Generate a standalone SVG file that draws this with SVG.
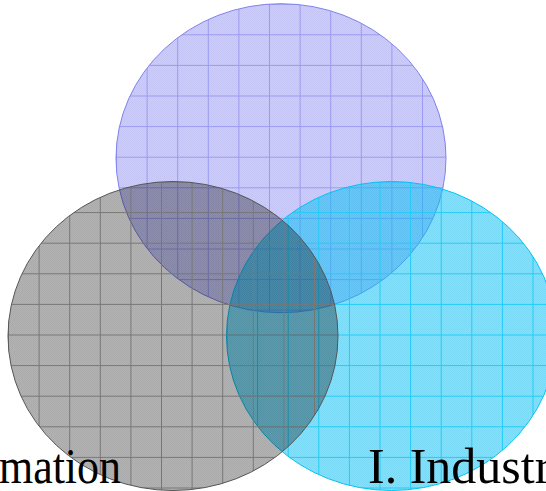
<svg xmlns="http://www.w3.org/2000/svg" width="546" height="491" viewBox="0 0 546 491">
<defs>
<pattern id="fine" width="2" height="2" patternUnits="userSpaceOnUse">
<rect x="0" y="0" width="1" height="1" fill="#000" fill-opacity="0.04"/>
<rect x="1" y="1" width="1" height="1" fill="#000" fill-opacity="0.04"/>
</pattern>
<pattern id="gridB" x="116" y="3.7" width="30.6" height="30.6" patternUnits="userSpaceOnUse">
<path d="M0 0.5H30.6M0.5 0V30.6" stroke="#9a9af2" stroke-width="1" fill="none"/>
</pattern>
<pattern id="gridG" x="8" y="181.5" width="30.6" height="30.6" patternUnits="userSpaceOnUse">
<path d="M0 0.5H30.6M0.5 0V30.6" stroke="#777777" stroke-width="1" fill="none"/>
</pattern>
<pattern id="gridC" x="226.5" y="181.5" width="30.6" height="30.6" patternUnits="userSpaceOnUse">
<path d="M0 0.5H30.6M0.5 0V30.6" stroke="#20ccf8" stroke-width="1" fill="none"/>
</pattern>
</defs>
<style>
.lbl{font-family:"Liberation Serif","Times New Roman",serif;font-size:50px;fill:#000}
</style>
<g id="blue">
<ellipse cx="281" cy="158.2" rx="165" ry="154.5" fill="#0000ff" fill-opacity="0.2"/>
<ellipse cx="281" cy="158.2" rx="165" ry="154.5" fill="url(#fine)"/>
<ellipse cx="281" cy="158.2" rx="165" ry="154.5" fill="url(#gridB)" stroke="#8080ee" stroke-width="1"/>
</g>
<g id="cyan">
<ellipse cx="391.5" cy="336" rx="165" ry="154.5" fill="#00c8ff" fill-opacity="0.5"/>
<ellipse cx="391.5" cy="336" rx="165" ry="154.5" fill="url(#fine)"/>
<ellipse cx="391.5" cy="336" rx="165" ry="154.5" fill="url(#gridC)" stroke="#00c4f4" stroke-width="1"/>
</g>
<g id="gray">
<ellipse cx="173" cy="336" rx="165" ry="154.5" fill="#000000" fill-opacity="0.3"/>
<ellipse cx="173" cy="336" rx="165" ry="154.5" fill="url(#fine)"/>
<ellipse cx="173" cy="336" rx="165" ry="154.5" fill="url(#gridG)" stroke="#555555" stroke-width="1"/>
</g>
<g id="labels">
<text class="lbl" x="-1" y="483" textLength="122" lengthAdjust="spacingAndGlyphs">mation</text>
<text class="lbl" x="368" y="483">I. Industr</text>
</g>
</svg>
